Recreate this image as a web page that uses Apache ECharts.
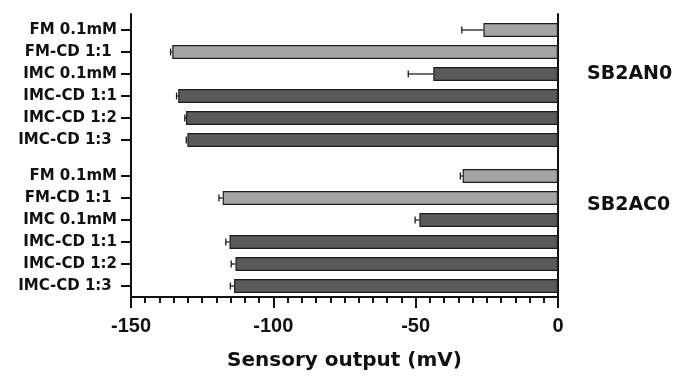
<!DOCTYPE html>
<html><head><meta charset="utf-8">
<script src="https://cdn.jsdelivr.net/npm/echarts@6/dist/echarts.min.js"></script>
<style>html,body{margin:0;padding:0;background:#fff}#c{width:677px;height:376px}</style>
</head><body><div id="c"></div>
<script>
const categories = ['FM 0.1mM','FM-CD 1:1','IMC 0.1mM','IMC-CD 1:1','IMC-CD 1:2','IMC-CD 1:3'];
const categoryLabels = ['FM 0.1mM','FM-CD 1:1 ','IMC 0.1mM','IMC-CD 1:1','IMC-CD 1:2','IMC-CD 1:3 '];
const sb2an0Values = [-26.2, -135.5, -43.8, -133.4, -130.7, -130.2];
const sb2an0Errors = [7.6, 0.6, 8.8, 0.6, 0.4, 0.4];
const sb2ac0Values = [-33.5, -117.8, -48.7, -115.4, -113.3, -113.8];
const sb2ac0Errors = [0.8, 1.3, 1.5, 1.3, 1.5, 1.3];
const groupNames = ['SB2AN0', 'SB2AC0'];
const xTicks = [-150, -100, -50, 0];

const FONT = 'DejaVu Sans';
const TICKFONT = 'Liberation Sans';
const lightGray = '#a4a4a4', darkGray = '#5a5a5a', edge = '#1e1e1e';
function colorFor(c){ return c.indexOf('FM') === 0 ? lightGray : darkGray; }

function barSeries(gi, vals){
  return {
    type: 'bar', xAxisIndex: gi, yAxisIndex: gi, barWidth: 14,
    data: vals.map((v, i) => ({ value: v, itemStyle: { color: colorFor(categories[i]) } })),
    itemStyle: { borderColor: edge, borderWidth: 1.2 },
    z: 3, silent: true
  };
}
function errSeries(gi, vals, errs){
  return {
    type: 'custom', xAxisIndex: gi, yAxisIndex: gi, z: 4, silent: true,
    data: vals.map((v, i) => [v, i, errs[i]]),
    renderItem: function(params, api){
      const v = api.value(0), i = api.value(1), e = api.value(2);
      const p0 = api.coord([v, i]);
      const p1 = api.coord([v - e, i]);
      const st = { stroke: edge, lineWidth: 1.3 };
      return { type: 'group', children: [
        { type: 'line', shape: { x1: p0[0], y1: p0[1], x2: p1[0], y2: p1[1] }, style: st },
        { type: 'line', shape: { x1: p1[0], y1: p1[1] - 3.5, x2: p1[0], y2: p1[1] + 3.5 }, style: st }
      ]};
    }
  };
}

const gridLeft = 131, gridRight = 119;
const hiddenX = (gi) => ({ type: 'value', gridIndex: gi, min: -150, max: 0, show: false });
const catY = (gi) => ({
  type: 'category', gridIndex: gi, data: categoryLabels, inverse: true, position: 'left',
  axisLine: { show: true, onZero: false, lineStyle: { color: '#111', width: 2 } },
  axisTick: { show: true, alignWithLabel: true, length: 10, lineStyle: { color: '#111', width: 2 } },
  axisLabel: { fontFamily: FONT, fontWeight: 'bold', fontSize: 15, color: '#111', margin: 14 }
});

const option = {
  animation: false,
  backgroundColor: '#fff',
  title: [
    { text: groupNames[0], left: 582, top: 60, textStyle: { fontFamily: FONT, fontWeight: 'bold', fontSize: 19, color: '#111' } },
    { text: groupNames[1], left: 582, top: 191, textStyle: { fontFamily: FONT, fontWeight: 'bold', fontSize: 19, color: '#111' } }
  ],
  grid: [
    { left: gridLeft, right: gridRight, top: 19, height: 132 },
    { left: gridLeft, right: gridRight, top: 165, height: 132 },
    { left: gridLeft, right: gridRight, top: 14, bottom: 76 }
  ],
  xAxis: [
    hiddenX(0), hiddenX(1),
    { type: 'value', gridIndex: 2, min: -150, max: 0, interval: 50, position: 'bottom',
      splitLine: { show: false },
      axisLine: { show: true, onZero: false, lineStyle: { color: '#111', width: 2 } },
      axisTick: { show: true, length: 11, lineStyle: { color: '#111', width: 2 } },
      minorTick: { show: true, splitNumber: 10, length: 6, lineStyle: { color: '#111', width: 2 } },
      axisLabel: { fontFamily: TICKFONT, fontWeight: 'bold', fontSize: 20, color: '#111', margin: 19,
        formatter: v => (xTicks.indexOf(v) >= 0 ? String(v) : '') },
      name: 'Sensory output (mV)', nameLocation: 'middle', nameGap: 54,
      nameTextStyle: { fontFamily: FONT, fontWeight: 'bold', fontSize: 20, color: '#111' }
    }
  ],
  yAxis: [
    catY(0), catY(1),
    { type: 'category', gridIndex: 2, data: [''], position: 'left',
      axisLine: { show: true, onZero: false, lineStyle: { color: '#111', width: 2 } },
      axisTick: { show: false }, axisLabel: { show: false } },
    { type: 'category', gridIndex: 2, data: [''], position: 'right',
      axisLine: { show: true, onZero: false, lineStyle: { color: '#111', width: 2 } },
      axisTick: { show: false }, axisLabel: { show: false } }
  ],
  series: [
    barSeries(0, sb2an0Values), errSeries(0, sb2an0Values, sb2an0Errors),
    barSeries(1, sb2ac0Values), errSeries(1, sb2ac0Values, sb2ac0Errors)
  ]
};
const chart = echarts.init(document.getElementById('c'), null, { renderer: 'canvas' });
chart.setOption(option);
</script></body></html>
